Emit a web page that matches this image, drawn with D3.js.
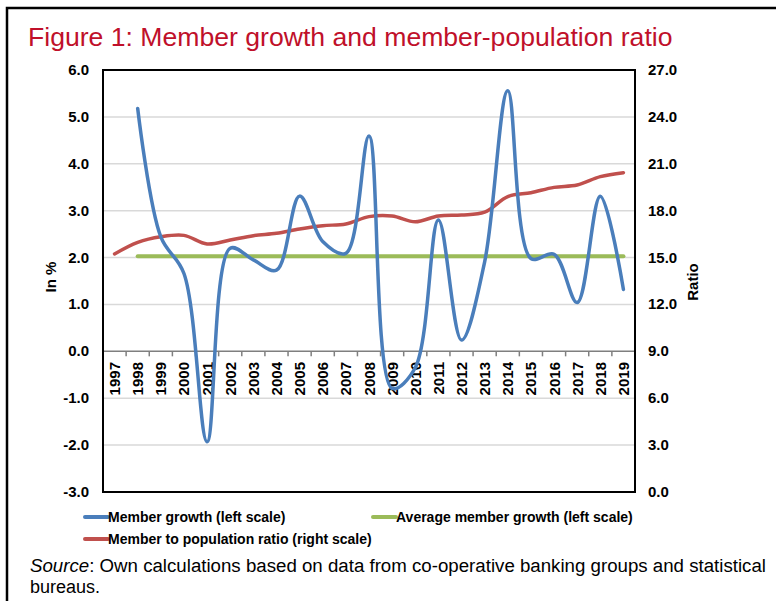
<!DOCTYPE html>
<html>
<head>
<meta charset="utf-8">
<script src="https://cdn.jsdelivr.net/npm/d3@7"></script>
<style>
  html, body { margin: 0; padding: 0; background: #fff; }
  svg { display: block; font-family: "Liberation Sans", Arial, sans-serif; }
</style>
</head>
<body>
<svg id="chart" width="776" height="601"></svg>
<script>
const years = ["1997","1998","1999","2000","2001","2002","2003","2004","2005","2006","2007","2008","2009","2010","2011","2012","2013","2014","2015","2016","2017","2018","2019"];
// Member growth (left scale, %), starts 1998
const memberGrowth = [null,5.18,2.44,1.66,-1.93,2.2,1.95,1.73,3.31,2.34,2.09,4.59,-0.79,-0.35,2.8,0.24,1.91,5.56,1.98,2.07,1.04,3.31,1.32];
// Average member growth (left scale, %)
const avgGrowth = [null,2.03,2.03,2.03,2.03,2.03,2.03,2.03,2.03,2.03,2.03,2.03,2.03,2.03,2.03,2.03,2.03,2.03,2.03,2.03,2.03,2.03,2.03];
// Member to population ratio (right scale)
const ratio = [15.23,15.97,16.33,16.42,15.87,16.12,16.4,16.55,16.83,17.04,17.15,17.62,17.66,17.29,17.66,17.72,17.9,18.9,19.15,19.49,19.64,20.18,20.43];
const leftTicks = [-3,-2,-1,0,1,2,3,4,5,6];
const rightTicks = [0,3,6,9,12,15,18,21,24,27];

const svg = d3.select("#chart");
const L = 103, R = 635, T = 70, B = 492;

// outer frame (left + top visible)
svg.append("rect").attr("x",7).attr("y",8).attr("width",800).attr("height",620)
  .attr("fill","none").attr("stroke","#000").attr("stroke-width",2.5);

// title
svg.append("text").attr("x",28).attr("y",46)
  .attr("fill","#c0102a").attr("font-size",26.6)
  .text("Figure 1: Member growth and member-population ratio");

const x = d3.scaleBand().domain(years).range([L,R]).padding(0);
const cx = d => x(d) + x.bandwidth()/2;
const yL = d3.scaleLinear().domain([-3,6]).range([B,T]);
const yR = d3.scaleLinear().domain([0,27]).range([B,T]);

// gridlines
svg.append("g").selectAll("line").data(leftTicks.filter(v => v!==0 && v!==6 && v!==-3)).join("line")
  .attr("x1",L).attr("x2",R).attr("y1",d=>yL(d)).attr("y2",d=>yL(d))
  .attr("stroke","#d9d9d9").attr("stroke-width",1.5);

// zero axis line
svg.append("line").attr("x1",L).attr("x2",R).attr("y1",yL(0)).attr("y2",yL(0))
  .attr("stroke","#7f7f7f").attr("stroke-width",1.5);
// tick marks between categories
svg.append("g").selectAll("line").data(years.slice(1)).join("line")
  .attr("x1",d=>x(d)).attr("x2",d=>x(d)).attr("y1",yL(0)).attr("y2",yL(0)+5)
  .attr("stroke","#7f7f7f").attr("stroke-width",1.5);

// x labels
svg.append("g").selectAll("text").data(years).join("text")
  .attr("transform",d=>`translate(${cx(d)+5.5},362) rotate(-90)`)
  .attr("text-anchor","end").attr("font-size",15).attr("font-weight","bold")
  .text(d=>d);

// left axis labels
svg.append("g").selectAll("text").data(leftTicks).join("text")
  .attr("x",89).attr("y",d=>yL(d)+5).attr("text-anchor","end")
  .attr("font-size",15).attr("font-weight","bold")
  .text(d=>d.toFixed(1));
// right axis labels
svg.append("g").selectAll("text").data(rightTicks).join("text")
  .attr("x",648).attr("y",d=>yR(d)+5).attr("text-anchor","start")
  .attr("font-size",15).attr("font-weight","bold")
  .text(d=>d.toFixed(1));

// axis titles
svg.append("text").attr("transform","translate(56,277) rotate(-90)")
  .attr("text-anchor","middle").attr("font-size",15).attr("font-weight","bold").text("In %");
svg.append("text").attr("transform","translate(698,282) rotate(-90)")
  .attr("text-anchor","middle").attr("font-size",15).attr("font-weight","bold").text("Ratio");

// series
const curve = d3.curveCatmullRom.alpha(0.5);
const lineL = d3.line().x(d=>cx(d.y)).y(d=>yL(d.v)).curve(curve);
const lineR = d3.line().x(d=>cx(d.y)).y(d=>yR(d.v)).curve(curve);
const pack = arr => years.map((y,i)=>({y, v: arr[i]})).filter(d=>d.v!==null);

svg.append("path").attr("d",lineR(pack(ratio))).attr("fill","none")
  .attr("stroke","#c0504d").attr("stroke-width",3.5).attr("stroke-linecap","round");
svg.append("path").attr("d",lineL(pack(avgGrowth))).attr("fill","none")
  .attr("stroke","#9bbb59").attr("stroke-width",4).attr("stroke-linecap","round");
svg.append("path").attr("d",lineL(pack(memberGrowth))).attr("fill","none")
  .attr("stroke","#4a7ebb").attr("stroke-width",3.5).attr("stroke-linecap","round");

// plot border
svg.append("rect").attr("x",L).attr("y",T).attr("width",R-L).attr("height",B-T)
  .attr("fill","none").attr("stroke","#000").attr("stroke-width",2);

// legend
const legend = [
  {label:"Member growth (left scale)", color:"#4a7ebb", x:85, y:517},
  {label:"Average member growth (left scale)", color:"#9bbb59", x:373, y:517},
  {label:"Member to population ratio (right scale)", color:"#c0504d", x:85, y:539}
];
const lg = svg.append("g").selectAll("g").data(legend).join("g")
  .attr("transform",d=>`translate(${d.x},${d.y})`);
lg.append("line").attr("x1",0).attr("x2",23).attr("y1",0).attr("y2",0)
  .attr("stroke",d=>d.color).attr("stroke-width",4).attr("stroke-linecap","round");
lg.append("text").attr("x",23).attr("y",5).attr("font-size",14).attr("font-weight","bold")
  .text(d=>d.label);

// source
const src = svg.append("text").attr("x",30).attr("y",572).attr("font-size",18)
  .attr("textLength",736).attr("lengthAdjust","spacingAndGlyphs");
src.append("tspan").attr("font-style","italic").text("Source");
src.append("tspan").text(": Own calculations based on data from co-operative banking groups and statistical");
svg.append("text").attr("x",30).attr("y",593).attr("font-size",18).text("bureaus.");
</script>
</body>
</html>
